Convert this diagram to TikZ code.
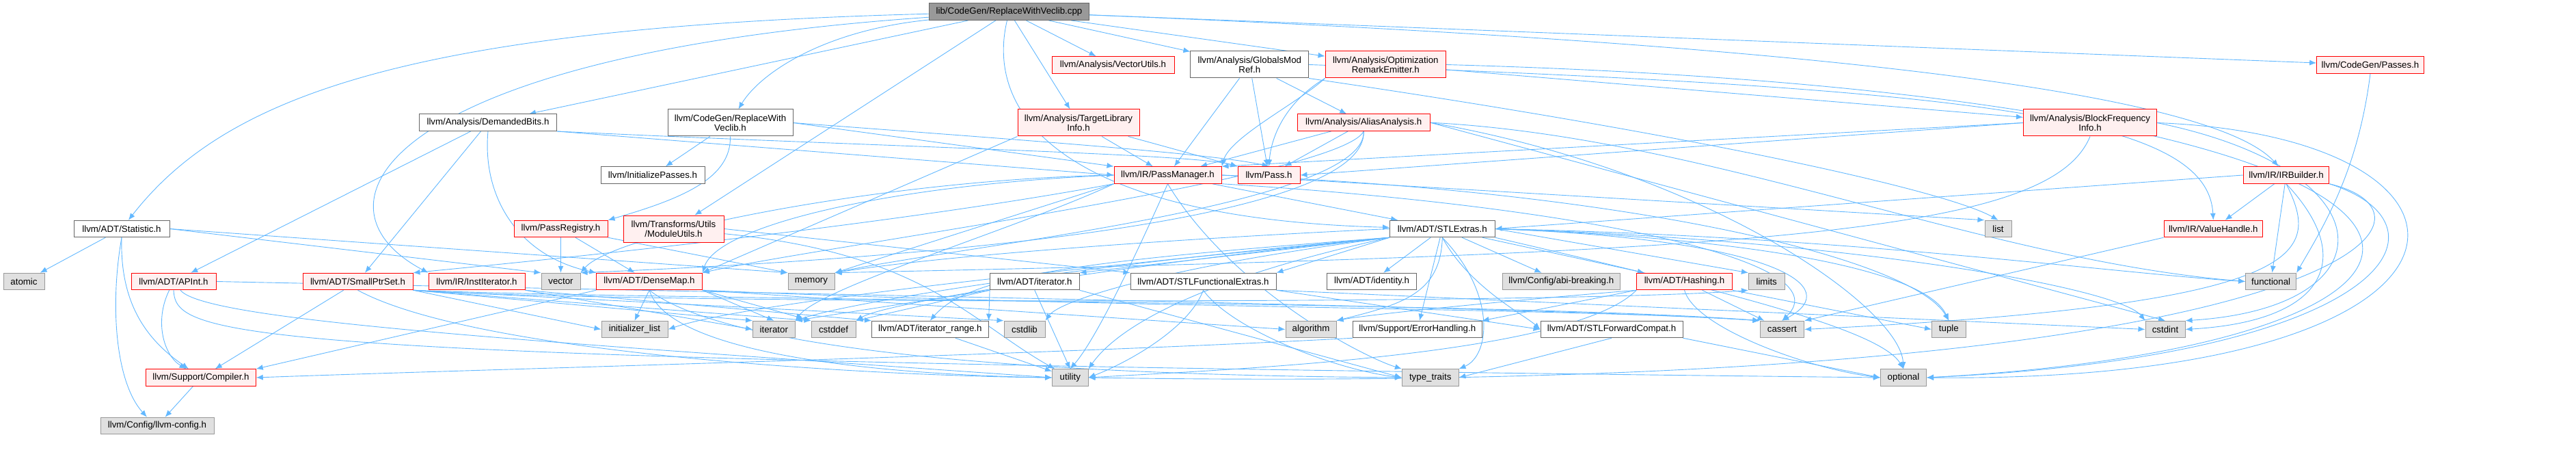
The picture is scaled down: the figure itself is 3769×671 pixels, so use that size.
\documentclass[tikz,border=0pt]{standalone}
\usepackage{fontspec}
\setmainfont{Liberation Sans}
\usetikzlibrary{arrows.meta}
\definecolor{edgec}{HTML}{63B8FF}
\definecolor{redb}{HTML}{FF0000}
\definecolor{redf}{HTML}{FFF0F0}
\definecolor{grayf}{HTML}{E0E0E0}
\definecolor{grayb}{HTML}{999999}
\definecolor{whiteb}{HTML}{666666}
\definecolor{mainf}{HTML}{999999}
\pgfdeclarelayer{edgelayer}
\pgfsetlayers{edgelayer,main}
\tikzset{
 base/.style={rectangle, inner sep=0pt, minimum height=24.5pt, align=center, font=\fontsize{13.3}{14}\selectfont, line width=1pt},
 mainnode/.style={base, fill=mainf, draw=whiteb},
 wnode/.style={base, fill=white, draw=whiteb},
 rnode/.style={base, fill=redf, draw=redb},
 gnode/.style={base, fill=grayf, draw=grayb},
 two/.style={minimum height=39pt},
 arr/.style={draw=edgec, line width=0.9pt, -{Latex[length=10pt,width=8pt]}},
}
\begin{document}
\begin{tikzpicture}[x=1pt,y=-1pt]
\useasboundingbox (0,0) rectangle (3769,671);
\node[mainnode, minimum width=234pt] (src) at (1476.5,17.2) {lib/CodeGen/ReplaceWithVeclib.cpp};
\node[wnode, minimum width=140pt] (Statistic) at (178,334.5) {llvm/ADT/Statistic.h};
\node[gnode, minimum width=60pt] (atomic) at (35,411.5) {atomic};
\node[rnode, minimum width=124pt] (APInt) at (254,411.5) {llvm/ADT/APInt.h};
\node[rnode, minimum width=161pt] (SmallPtrSet) at (523.5,411.5) {llvm/ADT/SmallPtrSet.h};
\node[rnode, minimum width=160.5pt] (Compiler) at (294,552) {llvm/Support/Compiler.h};
\node[gnode, minimum width=166pt] (llvmconfig) at (230,622.5) {llvm/Config/llvm-config.h};
\node[wnode, minimum width=200.5pt] (DemandedBits) at (714,179.2) {llvm/Analysis/DemandedBits.h};
\node[wnode, two, minimum width=183pt] (RWVh) at (1068.5,179.5) {llvm/CodeGen/ReplaceWith\\Veclib.h};
\node[wnode, minimum width=152pt] (InitPasses) at (955,256) {llvm/InitializePasses.h};
\node[rnode, minimum width=137pt] (PassRegistry) at (820.5,334.5) {llvm/PassRegistry.h};
\node[rnode, two, minimum width=147pt] (ModuleUtils) at (985.5,334.5) {llvm/Transforms/Utils\\/ModuleUtils.h};
\node[rnode, minimum width=141pt] (InstIterator) at (697.5,411.5) {llvm/IR/InstIterator.h};
\node[gnode, minimum width=57pt] (vector) at (820.5,411.5) {vector};
\node[rnode, minimum width=154.5pt] (DenseMap) at (950,411.5) {llvm/ADT/DenseMap.h};
\node[gnode, minimum width=68pt] (memory) at (1187,411.5) {memory};
\node[gnode, minimum width=97pt] (initlist) at (928.5,481.5) {initializer\_list};
\node[gnode, minimum width=61.5pt] (iterator) at (1132.3,481.5) {iterator};
\node[gnode, minimum width=65pt] (cstddef) at (1219.5,481.5) {cstddef};
\node[rnode, minimum width=179pt] (VectorUtils) at (1628.5,95) {llvm/Analysis/VectorUtils.h};
\node[wnode, two, minimum width=172.7pt] (GlobalsModRef) at (1828.3,94.5) {llvm/Analysis/GlobalsMod\\Ref.h};
\node[rnode, two, minimum width=178pt] (TLI) at (1578,179.5) {llvm/Analysis/TargetLibrary\\Info.h};
\node[rnode, minimum width=157pt] (PassManager) at (1708.5,256) {llvm/IR/PassManager.h};
\node[rnode, minimum width=91pt] (Pass) at (1856.5,256) {llvm/Pass.h};
\node[wnode, minimum width=130.4pt] (iteratorh) at (1513.8,411.5) {llvm/ADT/iterator.h};
\node[wnode, minimum width=213pt] (STLFunc) at (1760.5,411.5) {llvm/ADT/STLFunctionalExtras.h};
\node[wnode, minimum width=170.5pt] (iterrange) at (1360.8,481.5) {llvm/ADT/iterator\_range.h};
\node[gnode, minimum width=60pt] (cstdlib) at (1499,481.5) {cstdlib};
\node[gnode, minimum width=52.4pt] (utility) at (1565.8,552) {utility};
\node[rnode, two, minimum width=176.5pt] (OptRemark) at (2027.3,94.5) {llvm/Analysis/Optimization\\RemarkEmitter.h};
\node[rnode, minimum width=193.6pt] (AliasAnalysis) at (1995.2,179.2) {llvm/Analysis/AliasAnalysis.h};
\node[wnode, minimum width=153.5pt] (STLExtras) at (2110.3,334.5) {llvm/ADT/STLExtras.h};
\node[wnode, minimum width=131pt] (identity) at (2007,411.5) {llvm/ADT/identity.h};
\node[gnode, minimum width=172.6pt] (abibreaking) at (2284.3,411.5) {llvm/Config/abi-breaking.h};
\node[rnode, minimum width=139.6pt] (Hashing) at (2464.5,411.5) {llvm/ADT/Hashing.h};
\node[gnode, minimum width=74pt] (algorithm) at (1918,481.5) {algorithm};
\node[wnode, minimum width=188.4pt] (ErrorHandling) at (2073.8,481.5) {llvm/Support/ErrorHandling.h};
\node[wnode, minimum width=208pt] (STLFwd) at (2358,481.5) {llvm/ADT/STLForwardCompat.h};
\node[gnode, minimum width=82.6pt] (typetraits) at (2092.7,552) {type\_traits};
\node[rnode, two, minimum width=195pt] (BFI) at (3058,179.5) {llvm/Analysis/BlockFrequency\\Info.h};
\node[gnode, minimum width=39pt] (list) at (2923.5,334.5) {list};
\node[gnode, minimum width=52.6pt] (limits) at (2584.7,411.5) {limits};
\node[gnode, minimum width=64.6pt] (cassert) at (2607.3,481.5) {cassert};
\node[gnode, minimum width=49.5pt] (tuple) at (2851.3,481.5) {tuple};
\node[gnode, minimum width=67pt] (optional) at (2785,552) {optional};
\node[rnode, minimum width=156.7pt] (CGPasses) at (3468,95) {llvm/CodeGen/Passes.h};
\node[rnode, minimum width=125.6pt] (IRBuilder) at (3345,256) {llvm/IR/IRBuilder.h};
\node[rnode, minimum width=144.6pt] (ValueHandle) at (3238.3,334.5) {llvm/IR/ValueHandle.h};
\node[gnode, minimum width=74pt] (functional) at (3322.6,411.5) {functional};
\node[gnode, minimum width=58pt] (cstdint) at (3168,481.5) {cstdint};

\begin{pgfonlayer}{edgelayer}
% source file
\draw[arr] (src) .. controls (600,40) and (330,140) .. (Statistic);
\draw[arr] (src) .. controls (1200,45) and (1110,110) .. (RWVh);
\draw[arr] (src) -- (DemandedBits);
\draw[arr] (src) .. controls (560,80) and (440,300) .. (InstIterator.north west);
\draw[arr] (src) -- (ModuleUtils);
\draw[arr] (src) .. controls (1440,170) and (1560,320) .. (STLExtras);
\draw[arr] (src) -- (TLI);
\draw[arr] (src) -- (VectorUtils);
\draw[arr] (src) -- (GlobalsModRef);
\draw[arr] (src) -- (OptRemark);
\draw[arr] (src) -- (CGPasses);
\draw[arr] (src) .. controls (2800,70) and (3250,150) .. (IRBuilder);
% Statistic
\draw[arr] (Statistic) -- (atomic);
\draw[arr] (Statistic.south) .. controls (175,450) and (220,500) .. (Compiler);
\draw[arr] (Statistic.south) .. controls (160,450) and (170,560) .. ([xshift=-15pt]llvmconfig.north);
\draw[arr] (Statistic.east) -- (memory.north west);
\draw[arr] (Statistic.east) -- (vector.north west);
% APInt
\draw[arr] (APInt) .. controls (225,470) and (240,520) .. (Compiler);
\draw[arr] (APInt.east) .. controls (1200,430) and (2300,450) .. (cassert.north west);
\draw[arr] (APInt.south) .. controls (258,495) and (330,525) .. (optional.west);
\draw[arr] (APInt) .. controls (300,470) and (800,500) .. (utility.west);
% SmallPtrSet
\draw[arr] (SmallPtrSet) -- (Compiler);
\draw[arr] (SmallPtrSet.south east) .. controls (1000,440) and (2200,440) .. (cassert.north west);
\draw[arr] (SmallPtrSet.south east) -- (cstddef.north west);
\draw[arr] (SmallPtrSet.south east) -- (cstdlib.north west);
\draw[arr] (SmallPtrSet.south east) -- (initlist.west);
\draw[arr] (SmallPtrSet.south east) -- (iterator.north west);
\draw[arr] (SmallPtrSet.south east) .. controls (900,445) and (2300,445) .. (limits.south west);
\draw[arr] (SmallPtrSet.south) .. controls (700,520) and (1300,550) .. (utility.west);
% DemandedBits
\draw[arr] (DemandedBits) -- (APInt);
\draw[arr] (DemandedBits) -- (SmallPtrSet);
\draw[arr] (DemandedBits.south) .. controls (705,290) and (760,375) .. (DenseMap.north west);
\draw[arr] (DemandedBits.south east) -- (PassManager.west);
\draw[arr] (DemandedBits.south east) .. controls (1300,215) and (1750,225) .. (Pass.north west);
% ReplaceWithVeclib.h
\draw[arr] (RWVh) -- (InitPasses);
\draw[arr] (RWVh.south) .. controls (1070,260) and (1000,290) .. (PassRegistry.north east);
\draw[arr] (RWVh.east) -- (PassManager.north west);
\draw[arr] (RWVh.east) .. controls (1500,205) and (1780,225) .. (Pass.north);
% PassRegistry
\draw[arr] (PassRegistry) -- (vector);
\draw[arr] (PassRegistry) -- (DenseMap);
\draw[arr] (PassRegistry.south east) -- (memory.north west);
% ModuleUtils
\draw[arr] (ModuleUtils.east) -- (STLFunc.north west);
\draw[arr] (ModuleUtils) .. controls (1350,370) and (1420,470) .. (utility);
% InstIterator
\draw[arr] (InstIterator.south east) -- (iterrange.north west);
\draw[arr] (InstIterator.south east) -- (iterator.west);
% DenseMap
\draw[arr] (DenseMap.south west) -- (Compiler.north east);
\draw[arr] (DenseMap.south east) -- (algorithm.west);
\draw[arr] (DenseMap.south east) .. controls (1600,450) and (2300,450) .. (cassert.north west);
\draw[arr] (DenseMap.south east) -- (cstddef.north west);
\draw[arr] (DenseMap.south) -- (initlist.north);
\draw[arr] (DenseMap.south east) -- (iterator.north);
\draw[arr] (DenseMap.south) .. controls (1100,540) and (1800,550) .. (typetraits.west);
\draw[arr] (DenseMap.south) .. controls (980,520) and (1300,548) .. (utility.west);
% PassManager
\draw[arr] (PassManager.west) .. controls (1300,270) and (1050,330) .. (DenseMap.north east);
\draw[arr] (PassManager) -- (STLExtras);
\draw[arr] (PassManager.south west) .. controls (1300,330) and (800,380) .. (SmallPtrSet.north east);
\draw[arr] (PassManager.south east) .. controls (2300,300) and (2700,380) .. (cassert.north);
\draw[arr] (PassManager.south west) .. controls (1500,330) and (1200,420) .. (iterator.north east);
\draw[arr] (PassManager.east) -- (list.north west);
\draw[arr] (PassManager.south west) -- (memory.north east);
\draw[arr] (PassManager.east) .. controls (2400,280) and (2800,380) .. (tuple.north);
\draw[arr] (PassManager.south) .. controls (1800,420) and (1990,520) .. (typetraits.north west);
\draw[arr] (PassManager.south) .. controls (1650,400) and (1600,500) .. (utility.north);
\draw[arr] (PassManager.west) .. controls (1300,262) and (900,340) .. (vector.north east);
% TLI
\draw[arr] (TLI.south west) -- (DenseMap.north east);
\draw[arr] (TLI) -- (PassManager);
\draw[arr] (TLI) -- (Pass);
% GlobalsModRef
\draw[arr] (GlobalsModRef) -- (AliasAnalysis);
\draw[arr] (GlobalsModRef) -- (PassManager);
\draw[arr] (GlobalsModRef) -- (Pass);
\draw[arr] (GlobalsModRef.east) .. controls (2900,130) and (3230,170) .. (ValueHandle.north);
\draw[arr] (GlobalsModRef.south east) .. controls (2500,200) and (2850,280) .. (list.north);
% OptRemark
\draw[arr] (OptRemark) -- (BFI);
\draw[arr] (OptRemark.south west) .. controls (1900,150) and (1800,200) .. (PassManager.north east);
\draw[arr] (OptRemark.south west) .. controls (1880,150) and (1860,200) .. (Pass.north);
\draw[arr] (OptRemark.east) .. controls (3760,140) and (3760,500) .. (optional.east);
% AliasAnalysis
\draw[arr] (AliasAnalysis.south) .. controls (1960,260) and (1200,360) .. (DenseMap.north east);
\draw[arr] (AliasAnalysis) -- (PassManager);
\draw[arr] (AliasAnalysis) -- (Pass);
\draw[arr] (AliasAnalysis.east) -- (cstdint.north);
\draw[arr] (AliasAnalysis.east) .. controls (2500,200) and (2900,380) .. (functional.west);
\draw[arr] (AliasAnalysis.south) .. controls (2000,300) and (1400,360) .. (memory.north east);
\draw[arr] (AliasAnalysis.east) .. controls (2500,250) and (2780,450) .. (optional.north);
\draw[arr] (AliasAnalysis.south) .. controls (2000,330) and (1300,380) .. (vector.north east);
% STLExtras
\draw[arr] (STLExtras) -- (Hashing);
\draw[arr] (STLExtras.south) .. controls (2150,420) and (2230,460) .. (STLFwd.west);
\draw[arr] (STLExtras.south west) -- (STLFunc.north east);
\draw[arr] (STLExtras.south west) -- (iteratorh.north east);
\draw[arr] (STLExtras.south west) .. controls (1600,380) and (1420,400) .. (iterrange.north);
\draw[arr] (STLExtras) -- (abibreaking);
\draw[arr] (STLExtras) -- (ErrorHandling);
\draw[arr] (STLExtras) -- (identity);
\draw[arr] (STLExtras.south) .. controls (2108,430) and (2050,445) .. (algorithm.north east);
\draw[arr] (STLExtras.east) .. controls (2600,350) and (2700,420) .. (cassert.north);
\draw[arr] (STLExtras.south west) .. controls (1700,380) and (1300,440) .. (cstddef.north east);
\draw[arr] (STLExtras.east) .. controls (2700,350) and (3100,420) .. (cstdint.north west);
\draw[arr] (STLExtras.south west) .. controls (1700,390) and (1550,440) .. (cstdlib.north east);
\draw[arr] (STLExtras.east) .. controls (2700,345) and (3100,400) .. (functional.west);
\draw[arr] (STLExtras.south west) .. controls (1600,390) and (1100,440) .. (initlist.east);
\draw[arr] (STLExtras.south west) .. controls (1600,385) and (1250,440) .. (iterator.north east);
\draw[arr] (STLExtras.east) -- (limits.north west);
\draw[arr] (STLExtras.west) .. controls (1800,345) and (1400,370) .. (memory.north east);
\draw[arr] (STLExtras.south east) .. controls (2500,420) and (2750,480) .. (optional.north);
\draw[arr] (STLExtras.east) .. controls (2600,350) and (2820,400) .. (tuple.north);
\draw[arr] (STLExtras.south) .. controls (2190,430) and (2180,520) .. (typetraits.north east);
\draw[arr] (STLExtras.south west) .. controls (1700,420) and (1620,500) .. (utility.north east);
% iterator.h
\draw[arr] (iteratorh.south west) -- (iterrange.north east);
\draw[arr] (iteratorh.south west) -- (cstddef.north east);
\draw[arr] (iteratorh.south west) -- (iterator.north east);
\draw[arr] (iteratorh.south east) -- (typetraits.west);
\draw[arr] (iteratorh.south) -- (utility.north);
% iterator_range
\draw[arr] (iterrange) -- (utility);
% STLFunctionalExtras
\draw[arr] (STLFunc.south east) -- (STLFwd.west);
\draw[arr] (STLFunc.south east) -- (cstdint.west);
\draw[arr] (STLFunc.south) .. controls (1800,480) and (1950,540) .. (typetraits.west);
\draw[arr] (STLFunc.south) .. controls (1740,480) and (1650,530) .. (utility.east);
% STLForwardCompat
\draw[arr] (STLFwd.south east) -- (optional.west);
\draw[arr] (STLFwd.south) -- (typetraits.east);
% ErrorHandling
\draw[arr] (ErrorHandling.south west) .. controls (1500,520) and (700,540) .. (Compiler.east);
% Hashing
\draw[arr] (Hashing.south west) -- (ErrorHandling.north east);
\draw[arr] (Hashing.south west) .. controls (2200,440) and (2000,460) .. (algorithm.north east);
\draw[arr] (Hashing) -- (cassert);
\draw[arr] (Hashing.south west) .. controls (2300,520) and (1800,540) .. (utility.east);
\draw[arr] (Hashing.south) .. controls (2480,480) and (2650,540) .. (optional.west);
\draw[arr] (Hashing.south east) -- (tuple.west);
% Compiler
\draw[arr] (Compiler) -- (llvmconfig);
% BlockFrequencyInfo
\draw[arr] (BFI.west) -- (PassManager.north east);
\draw[arr] (BFI.west) -- (Pass.east);
\draw[arr] (BFI.east) .. controls (3500,250) and (3500,450) .. (cstdint.north east);
\draw[arr] (BFI.south) .. controls (3000,340) and (2600,370) .. (memory.north east);
\draw[arr] (BFI.east) .. controls (3690,200) and (3690,560) .. (optional.east);
% CodeGen/Passes
\draw[arr] (CGPasses.south) .. controls (3450,250) and (3400,330) .. (functional.north east);
% IRBuilder
\draw[arr] (IRBuilder.west) -- (STLExtras.east);
\draw[arr] (IRBuilder) -- (ValueHandle);
\draw[arr] (IRBuilder.south) .. controls (3395,370) and (3390,445) .. (cassert.east);
\draw[arr] (IRBuilder.south) .. controls (3450,380) and (3400,470) .. (cstdint.east);
\draw[arr] (IRBuilder) -- (functional);
\draw[arr] (IRBuilder.south east) .. controls (3600,330) and (3500,520) .. (optional.east);
\draw[arr] (IRBuilder.south east) .. controls (3620,320) and (3400,580) .. (utility.east);
% ValueHandle
\draw[arr] (ValueHandle.south west) -- (cassert.north east);
\end{pgfonlayer}
\end{tikzpicture}
\end{document}
